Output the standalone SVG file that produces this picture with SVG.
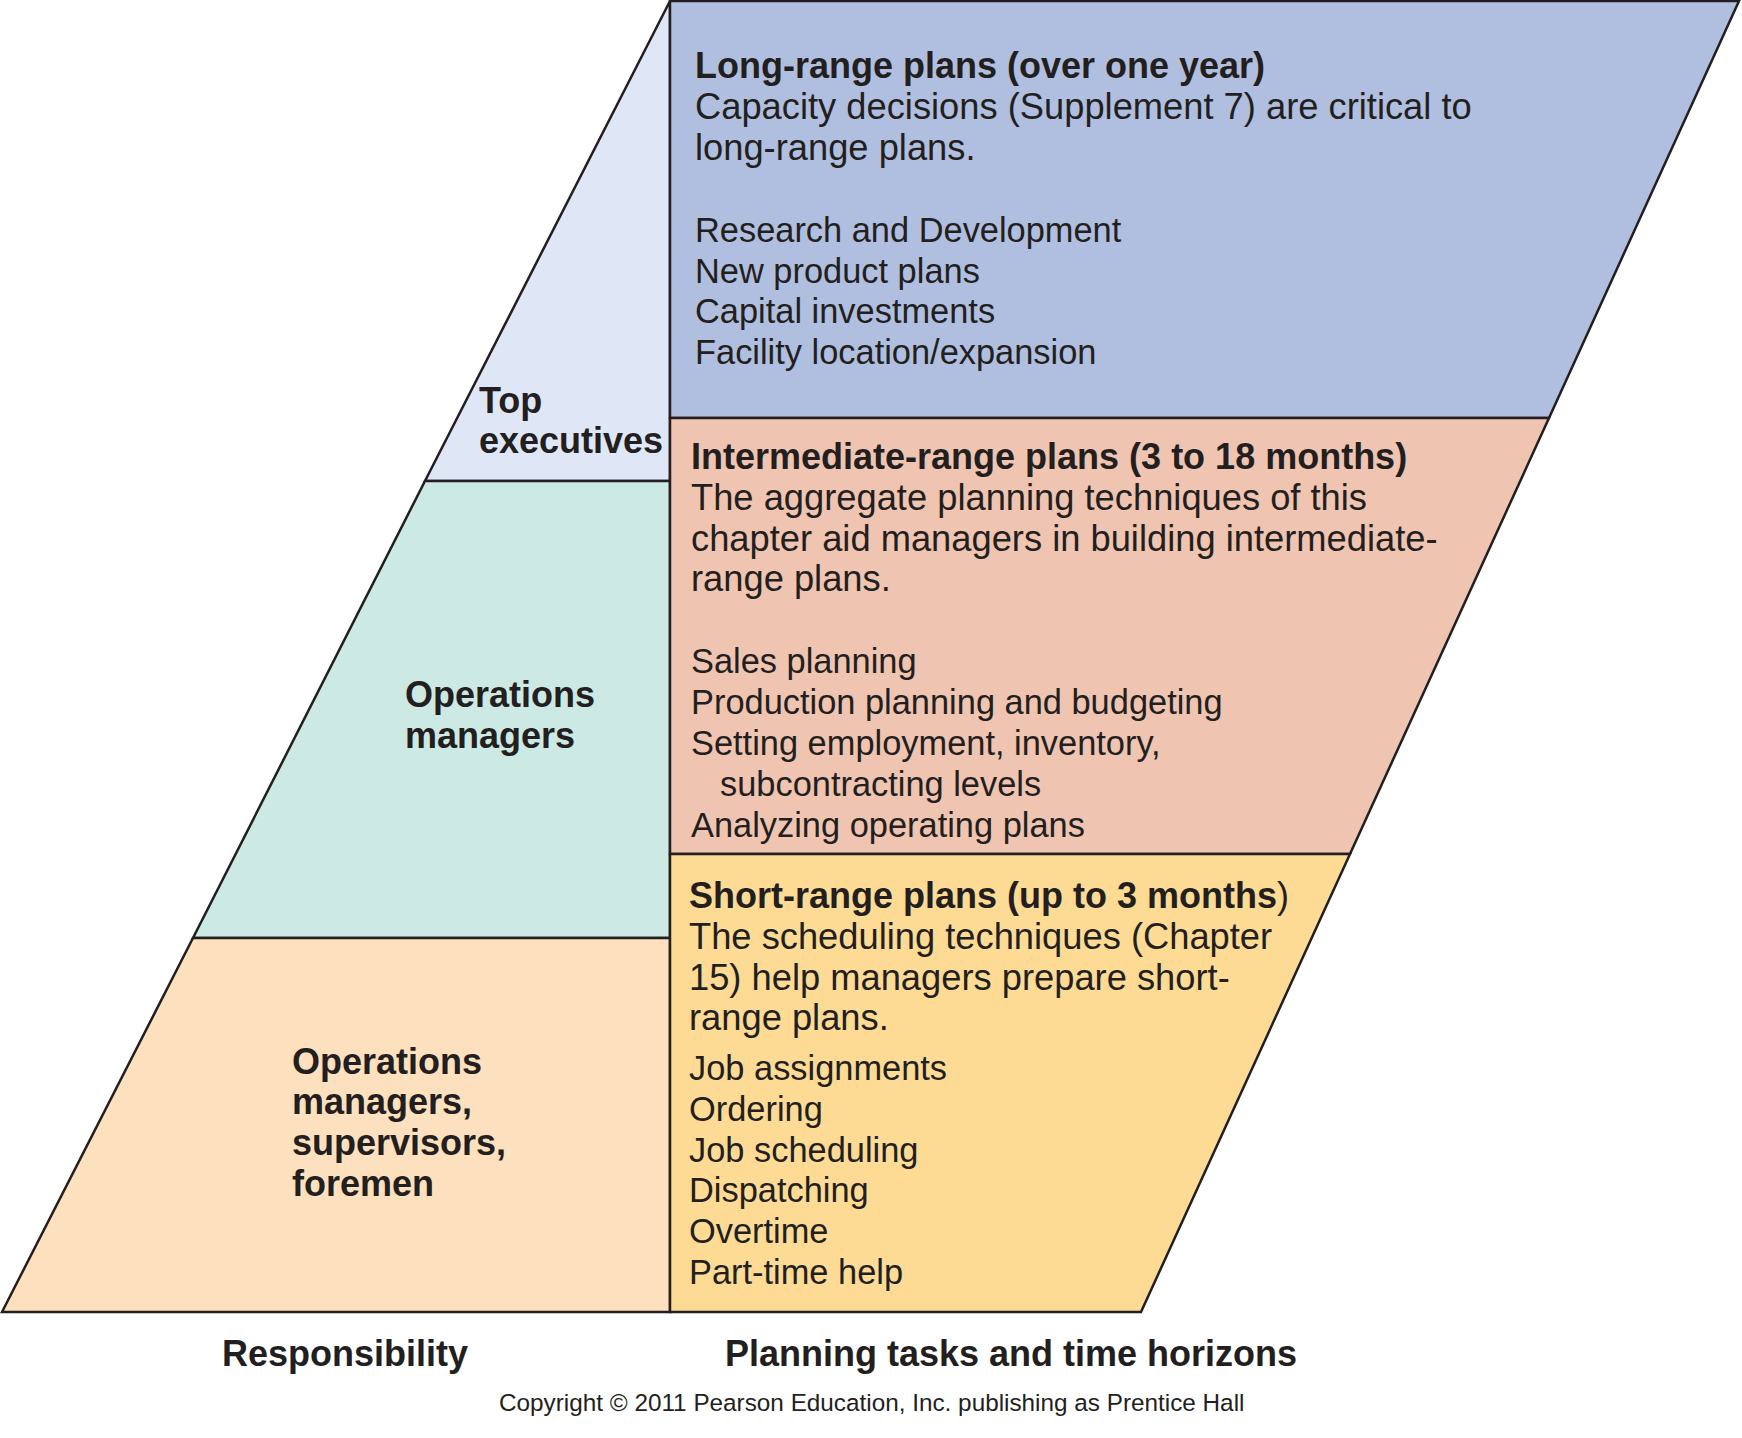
<svg xmlns="http://www.w3.org/2000/svg" width="1742" height="1438" viewBox="0 0 1742 1438">
<style>
.shape{stroke:#231f20;stroke-width:2.5;stroke-linejoin:miter}
text{font-family:"Liberation Sans",Arial,Helvetica,sans-serif;fill:#231f20}
.b{font-weight:bold;font-size:36px}
.r{font-size:36.3px}
.l{font-size:34.4px}
.lab{font-weight:bold;font-size:36px}
</style>
<rect x="0" y="0" width="1742" height="1438" fill="#ffffff"/>
<g id="top-executives">
<polygon class="shape" fill="#dfe6f5" points="670,1 670,481 425,481"/>
<text class="lab" x="479" y="413">Top</text>
<text class="lab" x="479" y="453">executives</text>
</g>
<g id="operations-managers">
<polygon class="shape" fill="#cde9e3" points="425,481 670,481 670,938 193,938"/>
<text class="lab" x="405" y="707">Operations</text>
<text class="lab" x="405" y="748">managers</text>
</g>
<g id="supervisors">
<polygon class="shape" fill="#fde0bd" points="193,938 670,938 670,1312 2,1312"/>
<text class="lab" x="292" y="1074">Operations</text>
<text class="lab" x="292" y="1114">managers,</text>
<text class="lab" x="292" y="1155">supervisors,</text>
<text class="lab" x="292" y="1196">foremen</text>
</g>
<g id="long-range">
<polygon class="shape" fill="#b0bfdf" points="670,1 1739,1 1549,418 670,418"/>
<text class="b" x="695" y="78">Long-range plans (over one year)</text>
<text class="r" x="695" y="119">Capacity decisions (Supplement 7) are critical to</text>
<text class="r" x="695" y="160">long-range plans.</text>
<text class="l" x="695" y="242">Research and Development</text>
<text class="l" x="695" y="283">New product plans</text>
<text class="l" x="695" y="323">Capital investments</text>
<text class="l" x="695" y="364">Facility location/expansion</text>
</g>
<g id="intermediate-range">
<polygon class="shape" fill="#efc4b1" points="670,418 1549,418 1350,854 670,854"/>
<text class="b" x="691" y="469">Intermediate-range plans (3 to 18 months)</text>
<text class="r" x="691" y="510">The aggregate planning techniques of this</text>
<text class="r" x="691" y="551">chapter aid managers in building intermediate-</text>
<text class="r" x="691" y="591">range plans.</text>
<text class="l" x="691" y="673">Sales planning</text>
<text class="l" x="691" y="714">Production planning and budgeting</text>
<text class="l" x="691" y="755">Setting employment, inventory,</text>
<text class="l" x="720" y="796">subcontracting levels</text>
<text class="l" x="691" y="837">Analyzing operating plans</text>
</g>
<g id="short-range">
<polygon class="shape" fill="#fddb95" points="670,854 1350,854 1141,1312 670,1312"/>
<text class="b" x="689" y="908">Short-range plans (up to 3 months<tspan font-weight="normal">)</tspan></text>
<text class="r" x="689" y="949">The scheduling techniques (Chapter</text>
<text class="r" x="689" y="990">15) help managers prepare short-</text>
<text class="r" x="689" y="1030">range plans.</text>
<text class="l" x="689" y="1080">Job assignments</text>
<text class="l" x="689" y="1121">Ordering</text>
<text class="l" x="689" y="1162">Job scheduling</text>
<text class="l" x="689" y="1202">Dispatching</text>
<text class="l" x="689" y="1243">Overtime</text>
<text class="l" x="689" y="1284">Part-time help</text>
</g>
<g id="connectors"></g>
<g id="captions">
<text x="222" y="1366" font-weight="bold" font-size="36">Responsibility</text>
<text x="725" y="1366" font-weight="bold" font-size="36">Planning tasks and time horizons</text>
<text x="499" y="1411" font-size="24.3">Copyright © 2011 Pearson Education, Inc. publishing as Prentice Hall</text>
</g>
</svg>
